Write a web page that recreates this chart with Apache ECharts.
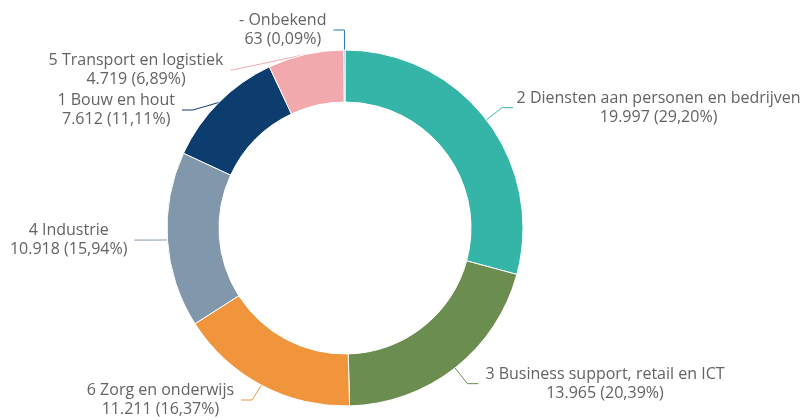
<!DOCTYPE html>
<html>
<head>
<meta charset="utf-8">
<script src="https://cdn.jsdelivr.net/npm/echarts@6/dist/echarts.min.js"></script>
<style>
html,body{margin:0;padding:0;background:#fff;}
#chart{width:807px;height:420px;}
</style>
</head>
<body>
<div id="chart"></div>
<script>
var categories = [
  '2 Diensten aan personen en bedrijven',
  '3 Business support, retail en ICT',
  '6 Zorg en onderwijs',
  '4 Industrie',
  '1 Bouw en hout',
  '5 Transport en logistiek',
  '- Onbekend'
];
var values = [19997, 13965, 11211, 10918, 7612, 4719, 63];
var colors = ['#35b5a7', '#6b8d4f', '#f0953b', '#8197ab', '#0d3c6f', '#f2a9ad', '#1f77b4'];
var lineLen2 = [11, 11, 11, 20, 11, 2, 11];

var total = values.reduce(function (a, b) { return a + b; }, 0);
function fmtNum(v) {
  return String(v).replace(/\B(?=(\d{3})+(?!\d))/g, '.');
}
function fmtPct(v) {
  return (v / total * 100).toFixed(2).replace('.', ',') + '%';
}

var chart = echarts.init(document.getElementById('chart'));
chart.setOption({
  animation: false,
  series: [{
    type: 'pie',
    center: [345, 228],
    radius: [126, 178],
    startAngle: 90,
    clockwise: true,
    avoidLabelOverlap: true,
    itemStyle: { borderColor: '#ffffff', borderWidth: 1 },
    label: {
      show: true,
      position: 'outside',
      overflow: 'none',
      distanceToLabelLine: 7,
      fontFamily: 'Open Sans',
      fontSize: 16,
      color: '#636363',
      lineHeight: 19,
      formatter: function (p) {
        return '{a|' + p.name + '}\n{a|' + fmtNum(p.value) + ' (' + fmtPct(p.value) + ')}';
      },
      rich: {
        a: { align: 'center', fontFamily: 'Open Sans', fontSize: 16, color: '#636363', lineHeight: 19 }
      }
    },
    labelLine: {
      show: true,
      length: 20,
      length2: 11,
      lineStyle: { width: 1 }
    },
    data: categories.map(function (c, i) {
      return {
        name: c,
        value: values[i],
        itemStyle: { color: colors[i] },
        labelLine: { length2: lineLen2[i], lineStyle: { color: colors[i] } }
      };
    })
  }]
});
</script>
</body>
</html>
